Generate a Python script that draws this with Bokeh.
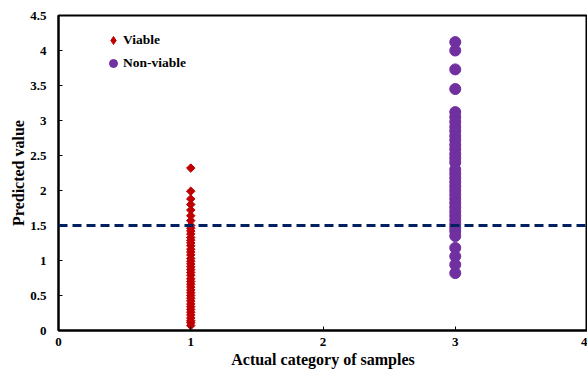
from bokeh.plotting import figure
from bokeh.models import Span, FixedTicker, Legend, LegendItem, ColumnDataSource
from bokeh.embed import file_html
from bokeh.resources import INLINE

# Data
viable_x = 1
viable_y = [2.32, 1.99, 1.88, 1.80, 1.72, 1.64, 1.57, 1.50, 1.46, 1.42, 1.38, 1.33,
            1.29, 1.25, 1.21, 1.16, 1.12, 1.08, 1.03, 0.99, 0.95, 0.91, 0.87, 0.83,
            0.79, 0.74, 0.70, 0.66, 0.62, 0.58, 0.54, 0.50, 0.46, 0.42, 0.38, 0.34,
            0.30, 0.26, 0.22, 0.18, 0.14, 0.11, 0.07]
nonviable_x = 3
nonviable_y = [4.12, 4.00, 3.73, 3.45, 3.12, 3.05, 2.98, 2.91, 2.85, 2.78, 2.72, 2.65,
               2.59, 2.52, 2.46, 2.40, 2.30, 2.24, 2.18, 2.12, 2.06, 2.00, 1.94, 1.88,
               1.82, 1.76, 1.70, 1.64, 1.58, 1.52, 1.47, 1.42, 1.35, 1.18, 1.06, 0.94,
               0.82]
threshold = 1.5
x_ticks = [0, 1, 2, 3, 4]
y_ticks = [0, 0.5, 1, 1.5, 2, 2.5, 3, 3.5, 4, 4.5]
y_tick_labels = {0: "0", 0.5: "0.5", 1: "1", 1.5: "1.5", 2: "2", 2.5: "2.5",
                 3: "3", 3.5: "3.5", 4: "4", 4.5: "4.5"}

FONT = "Liberation Serif"
RED = "#C00000"
PURPLE = "#7030A0"
NAN = float("nan")

p = figure(width=587, height=371, x_range=(0, 4), y_range=(0, 4.5),
           output_backend="svg", toolbar_location=None,
           min_border_left=58, min_border_right=0, min_border_top=15, min_border_bottom=41)
p.grid.visible = False
p.outline_line_color = "black"
p.outline_line_width = 2
p.background_fill_color = "white"
p.border_fill_color = "white"

src_v = ColumnDataSource(dict(x=[viable_x] * len(viable_y), y=viable_y))
src_n = ColumnDataSource(dict(x=[nonviable_x] * len(nonviable_y), y=nonviable_y))

r_n = p.scatter("x", "y", source=src_n, marker="circle", size=11,
                fill_color=PURPLE, line_color=PURPLE)
r_v = p.scatter("x", "y", source=src_v, marker="square", size=6, angle=0.785398,
                fill_color=RED, line_color=RED)

# legend-only glyphs (not drawn on the plot: NaN position)
leg_v = p.scatter(x=[NAN], y=[NAN], marker="diamond", size=10, fill_color=RED, line_color=RED)
leg_n = p.scatter(x=[NAN], y=[NAN], marker="circle", size=9, fill_color=PURPLE, line_color=PURPLE)

p.add_layout(Span(location=threshold, dimension="width", line_color="#002060",
                  line_width=3, line_dash="9 5"))

for ax in (p.xaxis[0], p.yaxis[0]):
    ax.axis_line_color = "black"
    ax.axis_line_width = 2
    ax.major_tick_in = 4
    ax.major_tick_out = 0
    ax.minor_tick_line_color = None
    ax.major_tick_line_color = "black"
    ax.major_label_text_font = FONT
    ax.major_label_text_font_style = "bold"
    ax.major_label_text_font_size = "13px"
    ax.major_label_text_color = "black"
    ax.axis_label_text_font = FONT
    ax.axis_label_text_font_style = "bold"
    ax.axis_label_text_font_size = "16px"
    ax.axis_label_text_color = "black"

p.xaxis.ticker = FixedTicker(ticks=x_ticks)
p.yaxis.ticker = FixedTicker(ticks=y_ticks)
p.yaxis.major_label_overrides = y_tick_labels
p.xaxis.axis_label = "Actual category of samples"
p.yaxis.axis_label = "Predicted value"
p.xaxis.major_label_standoff = 7
p.xaxis.axis_label_standoff = 2
p.yaxis.major_label_standoff = 12
p.yaxis.axis_label_standoff = 0

legend = Legend(items=[LegendItem(label="Viable", renderers=[leg_v]),
                       LegendItem(label="Non-viable", renderers=[leg_n])],
                location=(45, 256), padding=0, margin=0, spacing=1,
                glyph_width=20, glyph_height=22, label_standoff=0,
                label_text_font=FONT, label_text_font_style="bold",
                label_text_font_size="13.5px", label_text_color="black",
                label_height=22,
                border_line_color=None, background_fill_alpha=0)
p.add_layout(legend)

open("out.html", "w").write(file_html(p, INLINE))
